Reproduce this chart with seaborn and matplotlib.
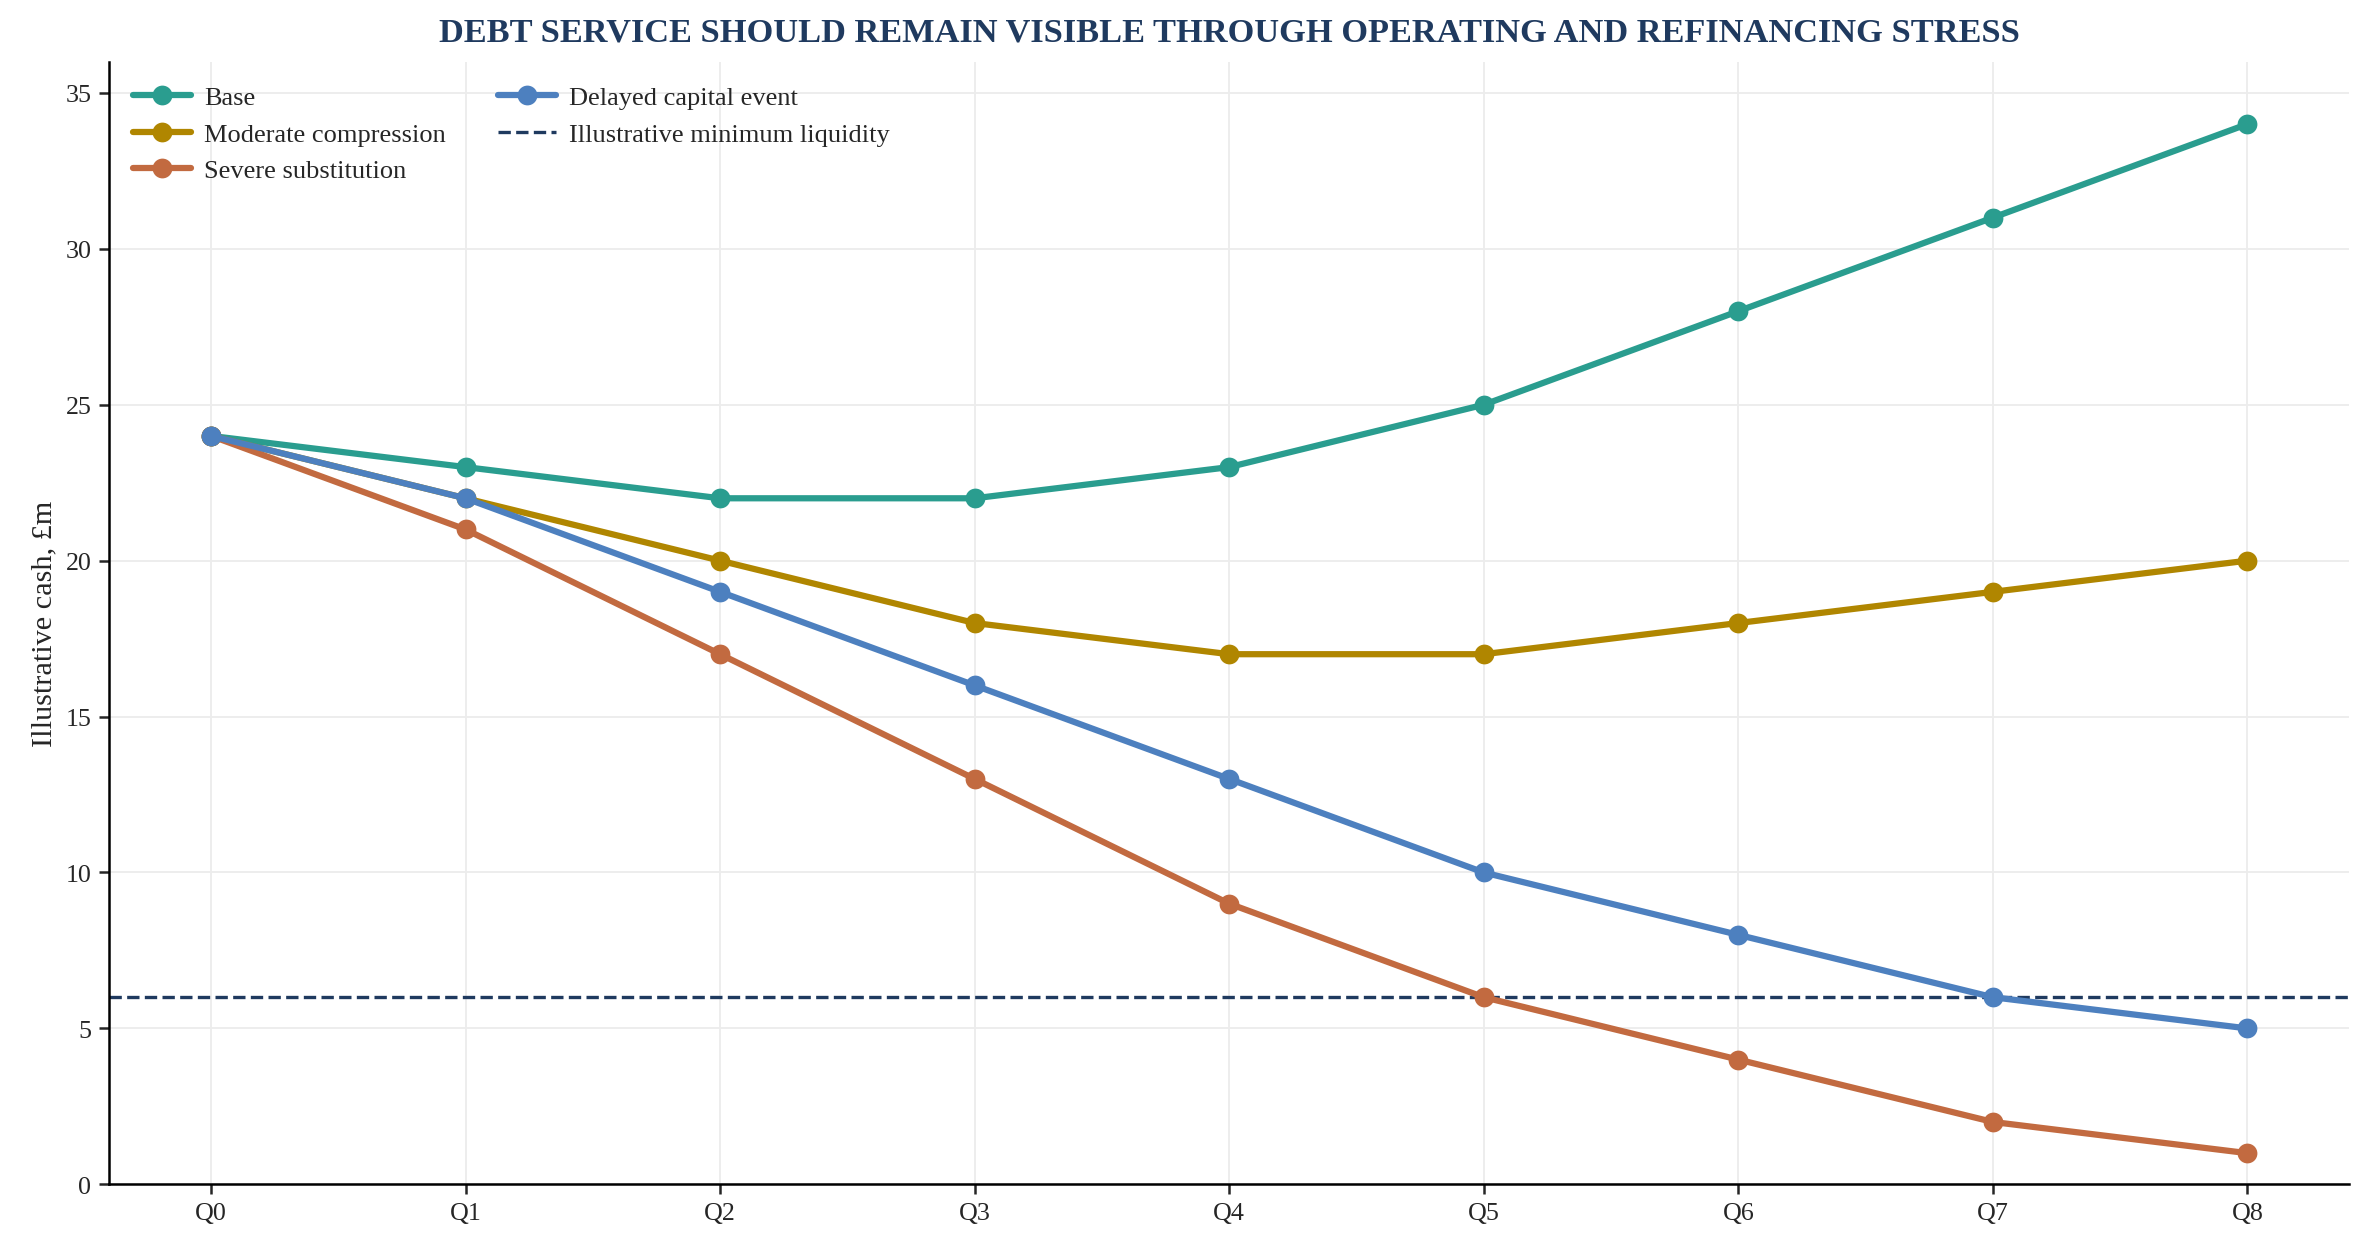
import numpy as np
import pandas as pd
import seaborn as sns
import matplotlib.pyplot as plt

# 数据
quarters = ["Q0", "Q1", "Q2", "Q3", "Q4", "Q5", "Q6", "Q7", "Q8"]
base = [24, 23, 22, 22, 23, 25, 28, 31, 34]
moderate = [24, 22, 20, 18, 17, 17, 18, 19, 20]
severe = [24, 21, 17, 13, 9, 6, 4, 2, 1]
delayed = [24, 22, 19, 16, 13, 10, 8, 6, 5]
min_liquidity = 6

scenarios = ["Base", "Moderate compression", "Severe substitution", "Delayed capital event"]
colors = ["#2a9d8f", "#b08600", "#c26a40", "#4d80bf"]

df = pd.DataFrame({"quarter": quarters * 4,
                   "x": list(range(len(quarters))) * 4,
                   "cash": base + moderate + severe + delayed,
                   "scenario": np.repeat(scenarios, len(quarters))})

sns.set_style("white")
plt.rcParams["font.family"] = ["Liberation Serif", "DejaVu Serif"]

fig, ax = plt.subplots(figsize=(15.82, 8.353), dpi=150)
fig.subplots_adjust(left=0.046, right=0.99, top=0.95, bottom=0.054)

sns.lineplot(data=df, x="x", y="cash", hue="scenario", hue_order=scenarios,
             palette=colors, marker="o", markersize=9.5, markeredgewidth=0,
             linewidth=3, ax=ax, zorder=3)
ax.axhline(min_liquidity, color="#1f3a5f", linestyle="--", linewidth=1.6,
           label="Illustrative minimum liquidity", zorder=2)

ax.set_xticks(range(len(quarters)))
ax.set_xticklabels(quarters)
ax.set_xlim(-0.4, 8.4)
ax.set_ylim(0, 36)
ax.set_xlabel("")
ax.set_ylabel("Illustrative cash, £m", fontsize=14.5)
ax.tick_params(axis="both", labelsize=12.5, length=5, width=1.2, left=True, bottom=True)
ax.grid(True, color="#ececec", linewidth=0.9)
ax.set_axisbelow(True)
sns.despine(ax=ax)
for s in ["left", "bottom"]:
    ax.spines[s].set_color("black")
    ax.spines[s].set_linewidth(1.2)

ax.set_title("DEBT SERVICE SHOULD REMAIN VISIBLE THROUGH OPERATING AND REFINANCING STRESS",
             fontsize=16.5, fontweight="bold", color="#1f3a5f", pad=10)

handles, labels = ax.get_legend_handles_labels()
ax.legend(handles, labels, loc="upper left", ncol=2, frameon=False, fontsize=12.7,
          handlelength=2.2, handletextpad=0.5, columnspacing=1.95, labelspacing=0.5)

fig.savefig("out.png", dpi=150)
plt.close(fig)
